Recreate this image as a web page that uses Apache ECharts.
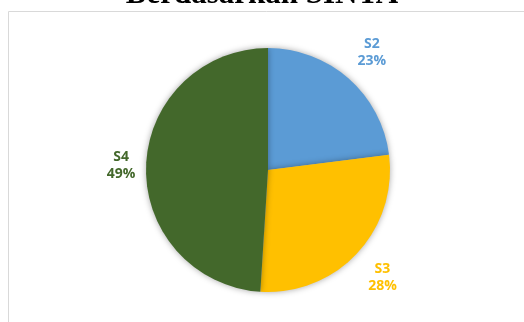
<!DOCTYPE html>
<html>
<head>
<meta charset="utf-8">
<script src="https://cdn.jsdelivr.net/npm/echarts@6/dist/echarts.min.js"></script>
<style>
  html, body { margin: 0; padding: 0; background: #fff; }
  #chart { width: 524px; height: 322px; }
</style>
</head>
<body>
<div id="chart"></div>
<script>
// data
const categories = ['S2', 'S3', 'S4'];
const values = [23, 28, 49];
const colors = ['#5B9BD5', '#FFC000', '#43682B'];

const cx = 268, cy = 170, radius = 122;
const labelRadius = [157, 157, 147];
const total = values.reduce((a, b) => a + b, 0);

// mid angle of each slice (clockwise from top), used to place labels
function midAngle(idx) {
    let before = 0;
    for (let i = 0; i < idx; i++) before += values[i];
    return ((before + values[idx] / 2) / total) * Math.PI * 2;
}

const chart = echarts.init(document.getElementById('chart'));
const option = {
    animation: false,
    title: {
        text: 'Berdasarkan SINTA',
        left: 'center',
        top: -21,
        padding: 0,
        textStyle: {
            fontFamily: 'Liberation Serif',
            fontWeight: 'bold',
            fontSize: 31,
            color: '#000'
        }
    },
    graphic: [{
        type: 'rect',
        shape: { x: 8.5, y: 11.5, width: 540, height: 340 },
        style: { fill: 'none', stroke: '#D9D9D9', lineWidth: 1 },
        silent: true
    }],
    series: [{
        type: 'pie',
        center: [cx, cy],
        radius: radius,
        startAngle: 90,
        clockwise: true,
        data: categories.map((c, i) => ({
            name: c,
            value: values[i],
            itemStyle: { color: colors[i] },
            label: { color: colors[i], fontFamily: 'Open Sans', fontSize: 14, fontWeight: 'bold' }
        })),
        itemStyle: {
            shadowBlur: 6,
            shadowColor: 'rgba(0,0,0,0.35)',
            borderWidth: 0
        },
        label: {
            show: true,
            position: 'outside',
            formatter: '{b}\n{d}%',
            fontFamily: 'Open Sans',
            fontWeight: 'bold',
            fontSize: 14,
            lineHeight: 17,
            align: 'center'
        },
        labelLine: { show: false },
        labelLayout: function (params) {
            const a = midAngle(params.dataIndex);
            const r = labelRadius[params.dataIndex];
            return {
                x: cx + r * Math.sin(a),
                y: cy - r * Math.cos(a),
                align: 'center',
                verticalAlign: 'middle'
            };
        }
    }]
};
chart.setOption(option);
</script>
</body>
</html>
